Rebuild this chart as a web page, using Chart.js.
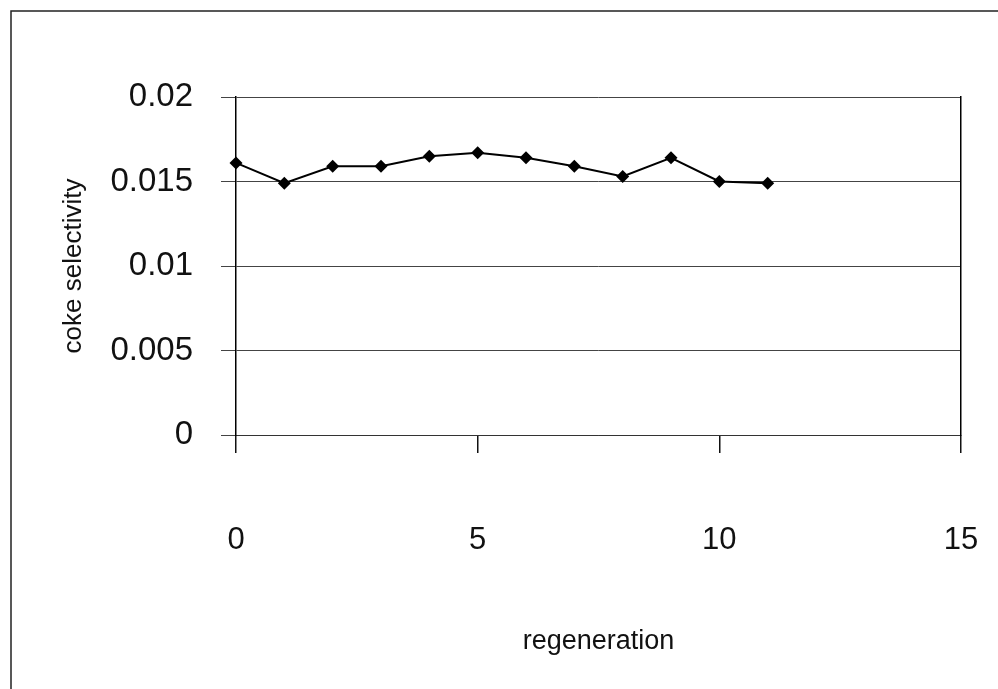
<!DOCTYPE html>
<html>
<head>
<meta charset="utf-8">
<script src="https://cdn.jsdelivr.net/npm/chart.js@4/dist/chart.umd.min.js"></script>
<style>
  html, body { margin: 0; padding: 0; background: #fff; }
  #wrap { position: relative; width: 998px; height: 689px; overflow: hidden; }
  canvas { display: block; }
</style>
</head>
<body>
<div id="wrap"><canvas id="c" width="998" height="689"></canvas></div>
<script>
// Coke selectivity measured after each regeneration cycle
const regeneration = [0, 1, 2, 3, 4, 5, 6, 7, 8, 9, 10, 11];
const cokeSelectivity = [0.0161, 0.0149, 0.0159, 0.0159, 0.0165, 0.0167, 0.0164, 0.0159, 0.0153, 0.0164, 0.0150, 0.0149];
const yTickValues = [0, 0.005, 0.01, 0.015, 0.02];
const yTickLabels = ['0', '0.005', '0.01', '0.015', '0.02'];
const xTickLabels = ['0', '5', '10', '15'];

const FONT = '"Liberation Sans", Arial, sans-serif';

// Outer frame around the whole figure
const framePlugin = {
  id: 'frame',
  afterDraw(chart) {
    const ctx = chart.ctx;
    ctx.save();
    ctx.strokeStyle = '#222';
    ctx.lineWidth = 1.5;
    ctx.strokeRect(11, 11, 1100, 800);
    ctx.restore();
  }
};

new Chart(document.getElementById('c'), {
  type: 'line',
  data: {
    datasets: [{
      data: regeneration.map((x, i) => ({ x, y: cokeSelectivity[i] })),
      borderColor: '#000',
      borderWidth: 2,
      backgroundColor: '#000',
      pointStyle: 'rectRot',
      pointRadius: 6.5,
      pointHoverRadius: 6.5,
      pointBorderWidth: 0,
      tension: 0,
      fill: false,
      clip: false
    }]
  },
  options: {
    responsive: false,
    animation: false,
    events: [],
    layout: { padding: { top: 97, left: 0, right: 0, bottom: 0 } },
    plugins: { legend: { display: false }, tooltip: { enabled: false } },
    scales: {
      x: {
        type: 'linear',
        position: 'bottom',
        min: 0,
        max: 15,
        afterBuildTicks(scale) {
          scale.ticks = xTickLabels.map(v => ({ value: Number(v) }));
        },
        ticks: {
          callback: (v) => xTickLabels[xTickLabels.indexOf(String(v))],
          font: { family: FONT, size: 31 },
          color: '#111',
          padding: 0,
          maxRotation: 0
        },
        // long tick slot keeps the labels low; only the first 17px of each tick is drawn
        grid: {
          drawOnChartArea: false,
          drawTicks: true,
          tickLength: 87,
          tickBorderDash: [17, 400],
          tickColor: '#111',
          tickWidth: 1.5,
          color: '#111',
          lineWidth: 1.5
        },
        border: { display: true, color: '#333', width: 1 },
        title: {
          display: true,
          text: 'regeneration',
          font: { family: FONT, size: 27 },
          color: '#111',
          padding: { top: 0, bottom: 31 }
        },
        afterFit(scale) { scale.height = 254; }
      },
      y: {
        type: 'linear',
        position: 'left',
        min: 0,
        max: 0.02,
        afterBuildTicks(scale) {
          scale.ticks = yTickValues.map(v => ({ value: v }));
        },
        ticks: {
          callback: (v) => yTickLabels[yTickValues.indexOf(v)],
          font: { family: FONT, size: 33 },
          color: '#111',
          padding: 28
        },
        grid: { drawOnChartArea: true, drawTicks: true, tickLength: 15, color: '#444', lineWidth: 1 },
        border: { display: true, color: '#000', width: 1.5 },
        title: {
          display: true,
          text: 'coke selectivity',
          font: { family: FONT, size: 26 },
          color: '#111',
          padding: { top: 58, bottom: 0 }
        },
        afterFit(scale) { scale.width = 236; }
      },
      yRight: {
        type: 'linear',
        position: 'right',
        min: 0,
        max: 0.02,
        ticks: { display: false },
        grid: { display: false },
        border: { display: true, color: '#000', width: 1.5 },
        afterFit(scale) { scale.width = 37; }
      }
    }
  },
  plugins: [framePlugin]
});
</script>
</body>
</html>
